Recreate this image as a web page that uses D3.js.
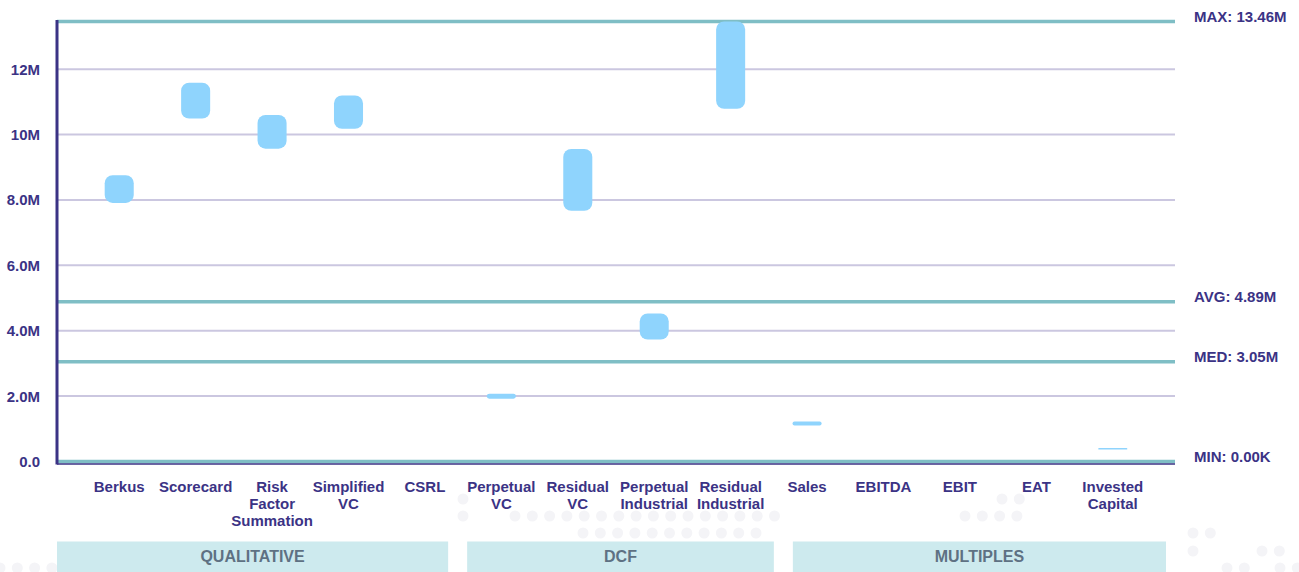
<!DOCTYPE html>
<html>
<head>
<meta charset="utf-8">
<script src="https://cdn.jsdelivr.net/npm/d3@7"></script>
<style>
  html, body { margin: 0; padding: 0; background: #ffffff; }
  svg { display: block; font-family: "Liberation Sans", Arial, Helvetica, sans-serif; }
</style>
</head>
<body>
<svg id="chart" width="1299" height="572"></svg>
<script>
// Valuation methods (line breaks mark the wrapped label lines)
const categories = [
  "Berkus", "Scorecard", "Risk\nFactor\nSummation", "Simplified\nVC", "CSRL",
  "Perpetual\nVC", "Residual\nVC", "Perpetual\nIndustrial", "Residual\nIndustrial",
  "Sales", "EBITDA", "EBIT", "EAT", "Invested\nCapital"
];

// Valuation range per method (low / high), null where no valuation exists
const lowValues  = [7.91e6, 10.49e6, 9.57e6, 10.18e6, null, 1.92e6, 7.67e6, 3.73e6, 10.79e6, 1.10e6, null, null, null, 0.37e6];
const highValues = [8.76e6, 11.59e6, 10.60e6, 11.20e6, null, 2.07e6, 9.56e6, 4.53e6, 13.46e6, 1.22e6, null, null, null, 0.41e6];

// Method families
const groupNames = ["QUALITATIVE", "DCF", "MULTIPLES"];
const groupFirst = [0, 5, 9];
const groupLast  = [4, 8, 13];

// Summary statistics across all methods
const statNames  = ["MAX", "AVG", "MED", "MIN"];
const statValues = [13.46e6, 4.89e6, 3.05e6, 0];

// Y axis ticks
const yTicks = [0, 2e6, 4e6, 6e6, 8e6, 10e6, 12e6];

// ---- layout ----
const W = 1299, H = 572;
const plotLeft = 57, plotRight = 1175;
const navy = "#3b3385";

const svg = d3.select("#chart");

const y = d3.scaleLinear().domain([0, d3.max(statValues)]).range([461.5, 21.5]);
const x = d3.scaleBand().domain(d3.range(categories.length)).range([81, 1151]).padding(0);
const barW = x.bandwidth() * 0.38;

// faint decorative dot pattern behind the lower area
const dotStep = 17.3;
const dotRows = [
  { y: 499, spans: [[463, 463], [1002, 1020]] },
  { y: 516, spans: [[463, 463], [515, 780], [965, 1020]] },
  { y: 533, spans: [[583, 762], [1193, 1210]] },
  { y: 551, spans: [[1193, 1193], [1262, 1280]] },
  { y: 568, spans: [[0, 52], [1227, 1244], [1280, 1297]] }
];
const dots = [];
dotRows.forEach(r => r.spans.forEach(([a, b]) => {
  for (let cx = a; cx <= b + 0.5; cx += dotStep) dots.push([cx, r.y]);
}));
svg.append("g").selectAll("circle").data(dots).join("circle")
  .attr("cx", d => d[0]).attr("cy", d => d[1]).attr("r", 5.5)
  .attr("fill", "#f4f4f7");

// horizontal gridlines
svg.append("g").selectAll("line").data(yTicks.filter(v => v > 0)).join("line")
  .attr("x1", plotLeft).attr("x2", plotRight)
  .attr("y1", d => y(d)).attr("y2", d => y(d))
  .attr("stroke", "#cbc7e0").attr("stroke-width", 2);

// y tick labels
svg.append("g").selectAll("text").data(yTicks).join("text")
  .attr("x", 40).attr("y", d => y(d)).attr("dy", "0.36em")
  .attr("text-anchor", "end")
  .attr("font-size", 15).attr("font-weight", "bold").attr("fill", navy)
  .text(d => d3.format(".2s")(d));

// statistic reference lines
svg.append("g").selectAll("line").data(statValues).join("line")
  .attr("x1", plotLeft).attr("x2", plotRight)
  .attr("y1", d => y(d)).attr("y2", d => y(d))
  .attr("stroke", "#7fbec5").attr("stroke-width", 3.5);

// x axis baseline
svg.append("line")
  .attr("x1", plotLeft).attr("x2", plotRight)
  .attr("y1", y(0) + 2.5).attr("y2", y(0) + 2.5)
  .attr("stroke", navy).attr("stroke-width", 1.6);

// y axis line
svg.append("line")
  .attr("x1", plotLeft).attr("x2", plotLeft)
  .attr("y1", y(d3.max(statValues)) - 1.5).attr("y2", y(0) + 3)
  .attr("stroke", navy).attr("stroke-width", 3);

// statistic labels
const fmtStat = v => v >= 1e6 ? (v / 1e6).toFixed(2) + "M" : (v / 1e3).toFixed(2) + "K";
svg.append("g").selectAll("text").data(statValues).join("text")
  .attr("x", 1194).attr("y", d => y(d) + 0.5)
  .attr("font-size", 15).attr("font-weight", "bold").attr("fill", navy)
  .text((d, i) => statNames[i] + ": " + fmtStat(d));

// valuation range bars
const bars = categories.map((c, i) => ({ i, lo: lowValues[i], hi: highValues[i] }))
  .filter(d => d.lo != null && d.hi != null);
svg.append("g").selectAll("rect").data(bars).join("rect")
  .attr("x", d => x(d.i) + x.bandwidth() / 2 - barW / 2)
  .attr("width", barW)
  .attr("y", d => y(d.hi))
  .attr("height", d => Math.max(1.5, y(d.lo) - y(d.hi)))
  .attr("rx", d => Math.min(8, (y(d.lo) - y(d.hi)) / 2))
  .attr("fill", "#8fd4fd");

// category labels
const catText = svg.append("g").selectAll("text").data(categories).join("text")
  .attr("x", (d, i) => x(i) + x.bandwidth() / 2)
  .attr("y", 491.5)
  .attr("text-anchor", "middle")
  .attr("font-size", 15).attr("font-weight", "bold").attr("fill", navy);
catText.each(function (d) {
  const t = d3.select(this);
  const cx = t.attr("x");
  d.split("\n").forEach((line, k) => {
    t.append("tspan").attr("x", cx).attr("dy", k === 0 ? 0 : 17).text(line);
  });
});

// method family boxes
const groupInset = [[-24, -15], [4, 5], [24, 15]];
const groups = groupNames.map((name, g) => ({
  name,
  x0: x(groupFirst[g]) + groupInset[g][0],
  x1: x(groupLast[g]) + x.bandwidth() + groupInset[g][1]
}));
const gg = svg.append("g").selectAll("g").data(groups).join("g");
gg.append("rect")
  .attr("x", d => d.x0).attr("width", d => d.x1 - d.x0)
  .attr("y", 541.5).attr("height", H - 541.5)
  .attr("fill", "#cdeaee");
gg.append("text")
  .attr("x", d => (d.x0 + d.x1) / 2).attr("y", 562)
  .attr("text-anchor", "middle")
  .attr("font-size", 16).attr("font-weight", "bold").attr("fill", "#5e7183")
  .text(d => d.name);
</script>
</body>
</html>
